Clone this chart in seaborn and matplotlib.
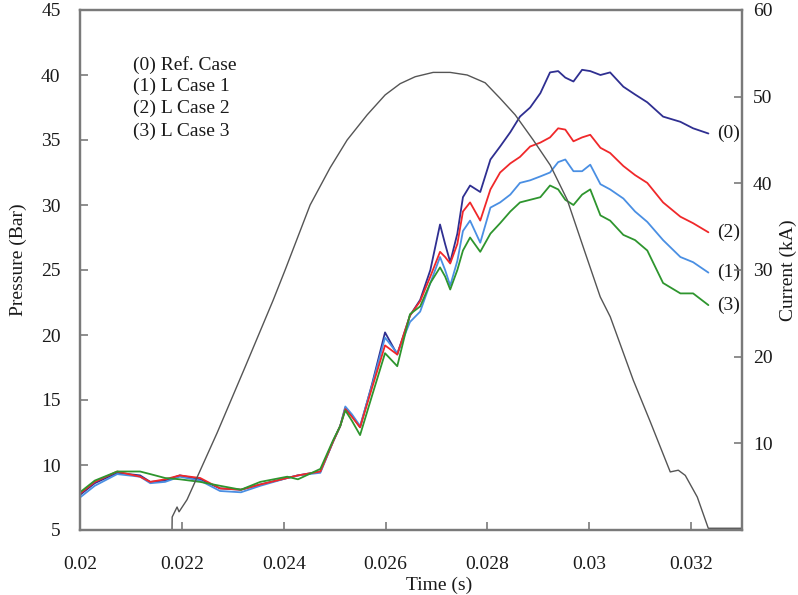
import matplotlib
matplotlib.use("Agg")
import matplotlib.pyplot as plt
import seaborn as sns
import pandas as pd

# Sampling instants of the pressure traces (s)
time = [0.02000, 0.02029, 0.02073, 0.02118, 0.02138, 0.02167, 0.02196, 0.02236,
        0.02275, 0.02316, 0.02354, 0.02407, 0.02428, 0.02472, 0.02497, 0.02511,
        0.02521, 0.02534, 0.02550, 0.02574, 0.02599, 0.02623, 0.02648, 0.02668,
        0.02688, 0.02707, 0.02717, 0.02727, 0.02741, 0.02752, 0.02766, 0.02786,
        0.02806, 0.02825, 0.02845, 0.02864, 0.02884, 0.02904, 0.02923, 0.02939,
        0.02953, 0.02969, 0.02986, 0.03002, 0.03022, 0.03041, 0.03067, 0.03090,
        0.03114, 0.03145, 0.03179, 0.03204, 0.03234]

# Pressure (Bar) for each case
p_ref = [7.7, 8.6, 9.4, 9.2, 8.7, 8.8, 9.2, 8.9, 8.2, 8.1, 8.5, 9.0, 9.2, 9.5,
         11.8, 13.0, 14.4, 13.8, 12.9, 16.3, 20.2, 18.5, 21.5, 22.7, 25.0, 28.5,
         27.0, 25.6, 27.8, 30.6, 31.5, 31.0, 33.5, 34.5, 35.6, 36.8, 37.5, 38.6,
         40.2, 40.3, 39.8, 39.5, 40.4, 40.3, 40.0, 40.2, 39.1, 38.5, 37.9, 36.8,
         36.4, 35.9, 35.5]
p_case1 = [7.5, 8.4, 9.3, 9.1, 8.6, 8.7, 9.1, 8.8, 8.0, 7.9, 8.4, 9.0, 9.2, 9.4,
           11.8, 13.0, 14.5, 13.9, 13.0, 16.2, 19.8, 18.6, 21.0, 21.8, 24.0, 26.0,
           25.0, 23.8, 25.7, 28.0, 28.8, 27.1, 29.8, 30.2, 30.8, 31.7, 31.9, 32.2,
           32.5, 33.3, 33.5, 32.6, 32.6, 33.1, 31.6, 31.2, 30.5, 29.5, 28.7, 27.3,
           26.0, 25.6, 24.8]
p_case2 = [7.8, 8.7, 9.5, 9.1, 8.7, 8.9, 9.2, 9.0, 8.2, 8.1, 8.5, 9.0, 9.2, 9.5,
           11.8, 13.0, 14.3, 13.7, 12.9, 16.0, 19.2, 18.5, 21.5, 22.6, 24.5, 26.4,
           26.0, 25.5, 27.0, 29.5, 30.2, 28.8, 31.2, 32.5, 33.2, 33.7, 34.5, 34.8,
           35.2, 35.9, 35.8, 34.9, 35.2, 35.4, 34.4, 34.0, 33.0, 32.3, 31.7, 30.2,
           29.1, 28.6, 27.9]
p_case3 = [7.9, 8.8, 9.5, 9.5, 9.3, 9.0, 8.9, 8.7, 8.4, 8.1, 8.7, 9.1, 8.9, 9.7,
           11.9, 13.0, 14.2, 13.4, 12.3, 15.4, 18.6, 17.6, 21.6, 22.2, 24.0, 25.2,
           24.5, 23.5, 25.0, 26.5, 27.5, 26.4, 27.8, 28.6, 29.5, 30.2, 30.4, 30.6,
           31.5, 31.2, 30.4, 30.0, 30.8, 31.2, 29.2, 28.8, 27.7, 27.3, 26.5, 24.0,
           23.2, 23.2, 22.3]

# Arc current waveform
cur_time = [0.021807, 0.021810, 0.021906, 0.021945, 0.022102, 0.022692, 0.023242,
            0.023792, 0.024028, 0.024519, 0.024912, 0.025246, 0.025639, 0.025992,
            0.026287, 0.026582, 0.026935, 0.027269, 0.027603, 0.027957, 0.028251,
            0.028546, 0.028900, 0.029234, 0.029568, 0.029902, 0.030216, 0.030413,
            0.030864, 0.031198, 0.031591, 0.031749, 0.031886, 0.032122, 0.032338,
            0.033000]
current_ka = [0.0, 1.5, 2.65, 2.1, 3.5, 11.2, 18.8, 26.5, 30.0, 37.5, 41.8, 45.0,
              47.9, 50.2, 51.5, 52.3, 52.8, 52.8, 52.5, 51.6, 49.8, 47.9, 45.0,
              42.1, 38.1, 32.3, 26.9, 24.6, 17.3, 12.5, 6.7, 6.9, 6.3, 3.8, 0.2,
              0.2]

case_names = ["(0) Ref. Case", "(1) L Case 1", "(2) L Case 2", "(3) L Case 3"]
end_tags = ["(0)", "(1)", "(2)", "(3)"]
case_colors = ["#2F2F91", "#4A8FE3", "#F0282A", "#2E952E"]

x_ticks = [0.02, 0.022, 0.024, 0.026, 0.028, 0.03, 0.032]
x_tick_labels = ["0.02", "0.022", "0.024", "0.026", "0.028", "0.03", "0.032"]
p_ticks = [5, 10, 15, 20, 25, 30, 35, 40, 45]
i_ticks = [10, 20, 30, 40, 50, 60]

sns.set_theme(style="white")
plt.rcParams["font.family"] = ["Liberation Serif", "DejaVu Serif"]
plt.rcParams["font.size"] = 14

frames = []
for name, vals in zip(case_names, [p_ref, p_case1, p_case2, p_case3]):
    frames.append(pd.DataFrame({"Time": time, "Pressure": vals, "Case": name}))
df = pd.concat(frames, ignore_index=True)
cur_df = pd.DataFrame({"Time": cur_time, "Current": current_ka})

fig = plt.figure(figsize=(7.98, 5.95), dpi=100)
ax = fig.add_axes([80 / 798, 1 - 530 / 595, 662 / 798, 520 / 595])

sns.lineplot(data=df, x="Time", y="Pressure", hue="Case", hue_order=case_names,
             palette=dict(zip(case_names, case_colors)), estimator=None,
             sort=False, linewidth=1.3, legend=False, ax=ax)

ax2 = ax.twinx()
sns.lineplot(data=cur_df, x="Time", y="Current", color="#555555", estimator=None,
             sort=False, linewidth=1.0, ax=ax2)

ax.set_xlim(0.02, 0.033)
ax.set_ylim(5, 45)
ax2.set_ylim(0, 60)
ax.set_xticks(x_ticks)
ax.set_xticklabels(x_tick_labels)
ax.set_yticks(p_ticks)
ax2.set_yticks(i_ticks)

text_color = "#1a1a1a"
spine_color = "#7a7a7a"
for a in (ax, ax2):
    for s in a.spines.values():
        s.set_color(spine_color)
        s.set_linewidth(1.6)
ax.tick_params(axis="x", direction="in", length=6, width=1.2, color=spine_color,
               pad=19, labelsize=14, labelcolor=text_color, bottom=True)
ax.tick_params(axis="y", direction="in", length=6, width=1.2, color=spine_color,
               pad=14, labelsize=14, labelcolor=text_color, left=True)
ax2.tick_params(axis="y", direction="in", length=6, width=1.2, color=spine_color,
                pad=8, labelsize=14, labelcolor=text_color, right=True)

ax.set_xlabel("Time (s)", fontsize=14, color=text_color)
ax.set_ylabel("Pressure (Bar)", fontsize=14, color=text_color)
ax2.set_ylabel("Current (kA)", fontsize=14, color=text_color)
ax.xaxis.set_label_coords(0.543, -0.089)
ax.yaxis.set_label_coords(-0.08, 0.52)
ax2.yaxis.set_label_coords(1.057, 0.5)

# Case key in the upper left
for k, name in enumerate(case_names):
    ax.text(0.08, 0.895 - k * 0.0425, name, transform=ax.transAxes,
            fontsize=14, color=text_color, va="center", ha="left")

# Tags at the end of each trace
for tag, vals in zip(end_tags, [p_ref, p_case1, p_case2, p_case3]):
    ax.annotate(tag, xy=(time[-1], vals[-1]), xytext=(6, 0),
                textcoords="offset points", va="center", ha="left",
                fontsize=14, color=text_color)

fig.savefig("out.png", dpi=100)
